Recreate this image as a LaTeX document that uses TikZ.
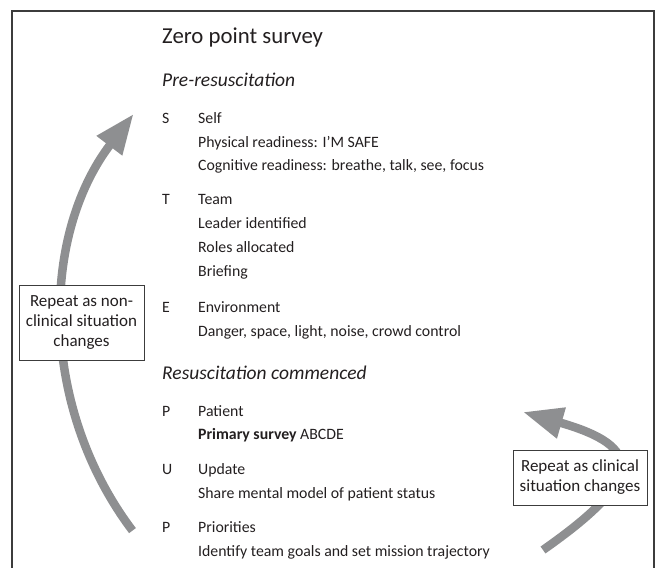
\documentclass[tikz,border=0pt]{standalone}
\usepackage{fontspec}
\setmainfont{Carlito}
\usetikzlibrary{arrows.meta}
\definecolor{arrowgray}{RGB}{142,143,145}
\definecolor{ink}{RGB}{35,31,32}
\definecolor{framegray}{RGB}{60,60,60}
\begin{document}
\begin{tikzpicture}[x=1pt,y=1pt,
  txt/.style={anchor=base west, inner sep=0pt, text=ink, font=\fontsize{15.8}{18}\selectfont},
  head/.style={txt, font=\fontsize{22.8}{26}\selectfont},
  sect/.style={txt, font=\fontsize{19.5}{22}\selectfont\itshape},
  letter/.style={txt},
  loopbox/.style={draw=framegray, line width=0.9pt, fill=white, align=center, inner sep=0pt, text=ink, font=\fontsize{17}{20}\selectfont},
  cycle arrow/.style={draw=arrowgray, line width=8.5pt, -{Triangle[length=40pt,width=30pt]}}
]
\useasboundingbox (0,0) rectangle (657,568);
% frame (open at the bottom)
\draw[framegray, line width=1.2pt] (12,-3) -- (12,557) -- (654,557) -- (654,-3);

% cycle arrows
\draw[cycle arrow] (408,245) ++(217:345) arc[start angle=217, end angle=142.7, radius=345];
\draw[cycle arrow] (543,18) to[out=35, in=-16, looseness=2.3] (523,156);

% loop boxes
\node[loopbox, minimum width=125pt, minimum height=75pt] (loopnc) at (81.5,245.5) {Repeat as non-\\clinical situation\\changes};
\node[loopbox, minimum width=134pt, minimum height=55pt] (loopc) at (580,90.5) {Repeat as clinical\\situation changes};

% texts
\node[head] (title) at (162,524) {Zero point survey};
\node[sect] (pre) at (162,481) {Pre-resuscitation};

\node[letter] (lS) at (162,444) {S};
\node[txt] (self) at (198,444) {Self};
\node[txt] (phys) at (198,420.5) {Physical readiness: I’M SAFE};
\node[txt] (cogn) at (198,397) {Cognitive readiness: breathe, talk, see, focus};

\node[letter] (lT) at (162,363) {T};
\node[txt] (team) at (198,363) {Team};
\node[txt] (lead) at (198,339) {Leader identified};
\node[txt] (roles) at (198,315) {Roles allocated};
\node[txt] (brief) at (198,291) {Briefing};

\node[letter] (lE) at (162,255) {E};
\node[txt] (env) at (198,255) {Environment};
\node[txt] (dang) at (198,231) {Danger, space, light, noise, crowd control};

\node[sect] (resus) at (162,188) {Resuscitation commenced};

\node[letter] (lP) at (162,151) {P};
\node[txt] (pat) at (198,151) {Patient};
\node[txt] (prim) at (198,128) {\textbf{Primary survey} ABCDE};

\node[letter] (lU) at (162,93) {U};
\node[txt] (upd) at (198,93) {Update};
\node[txt] (share) at (198,69.5) {Share mental model of patient status};

\node[letter] (lP2) at (162,35) {P};
\node[txt] (prio) at (198,35) {Priorities};
\node[txt] (ident) at (198,11.5) {Identify team goals and set mission trajectory};
\end{tikzpicture}
\end{document}
